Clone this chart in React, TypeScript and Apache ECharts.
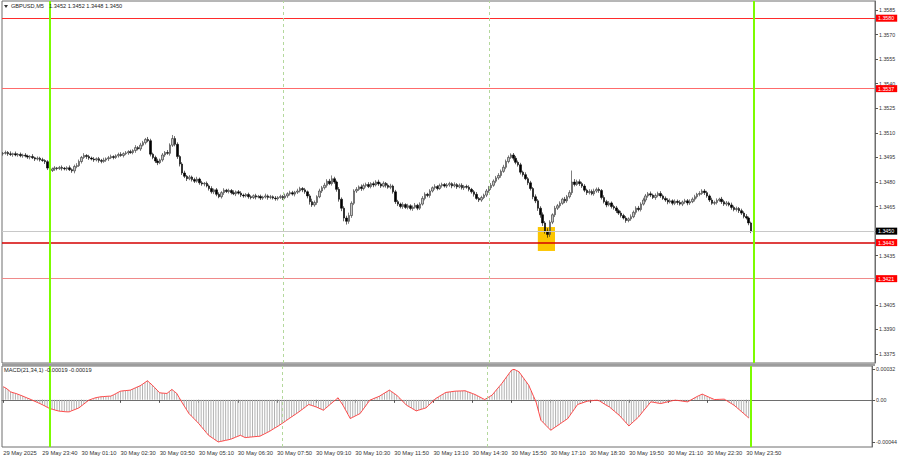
import { useEffect, useRef } from "react";
import * as echarts from "echarts";

// ---------- DATA ----------
const PIP_BASE = 1.34; // close values below are pips above 1.3400
const firstOpenPips = 97.2;
const closePips = [
  97.5, 98.0, 97.2, 96.8, 97.3, 96.5, 96.9, 96.0, 96.4, 95.8,
  95.2, 95.6, 94.8, 94.0, 94.5, 93.6, 93.1, 92.4, 88.5, 87.0,
  88.0, 88.6, 88.2, 88.9, 88.4, 88.0, 88.7, 87.5, 86.8, 89.5,
  90.0, 92.5, 95.0, 96.2, 95.5, 94.6, 94.0, 93.5, 94.2, 93.2,
  92.6, 93.4, 94.2, 94.8, 95.5, 95.0, 96.0, 96.8, 96.2, 97.3,
  97.8, 98.5, 98.0, 99.2, 101.0, 100.2, 102.5, 104.0, 106.0, 105.2,
  97.0, 95.0, 92.8, 91.8, 93.5, 96.5, 98.0, 97.5, 102.5, 106.5,
  103.0, 95.5, 91.0, 85.5, 83.5, 82.0, 83.0, 81.5, 80.5, 81.8,
  79.5, 78.8, 79.2, 77.6, 76.0, 74.0, 75.2, 72.5, 71.0, 73.5,
  75.0, 74.2, 74.8, 73.5, 72.8, 74.0, 73.2, 72.0, 71.5, 72.4,
  71.0, 70.5, 71.6, 70.8, 71.2, 70.2, 70.8, 71.5, 70.6, 71.0,
  70.2, 69.8, 70.5, 71.2, 70.4, 71.5, 72.8, 73.5, 72.6, 73.8,
  74.5, 76.0, 75.2, 74.0, 71.5, 68.0, 66.0, 67.5, 71.0, 74.5,
  76.5, 78.0, 80.5, 79.0, 82.0, 80.0, 75.5, 69.5, 64.0, 58.0,
  56.0, 59.5, 67.0, 74.5, 75.5, 77.0, 76.0, 77.8, 78.5, 77.2,
  79.0, 78.2, 80.0, 78.8, 77.5, 79.2, 78.0, 76.8, 77.5, 74.0,
  68.0, 66.5, 65.0, 66.2, 64.5, 65.5, 63.8, 64.6, 65.8, 64.0,
  66.5, 70.0, 72.5, 71.8, 74.5, 76.5, 77.2, 76.0, 77.8, 78.5,
  77.5, 78.2, 79.0, 77.6, 78.4, 77.0, 78.0, 76.5, 77.3, 76.8,
  75.5, 74.0, 72.5, 70.0, 69.0, 70.5, 72.0, 74.5, 76.5, 78.0,
  80.5, 82.5, 84.0, 86.5, 89.0, 92.5, 95.0, 96.5, 94.5, 92.0,
  90.5, 86.0, 84.5, 82.0, 79.5, 76.0, 71.0, 68.5, 64.0, 60.0,
  55.0, 50.0, 48.0, 55.5, 60.0, 64.0, 65.5, 67.0, 69.5, 68.5,
  71.0, 73.5, 80.0, 78.5, 80.2, 79.0, 77.5, 75.0, 73.5, 74.2,
  72.8, 74.5, 75.5, 74.8, 70.5, 68.0, 66.0, 67.2, 65.0, 64.2,
  62.5, 61.0, 59.5, 58.0, 56.5, 57.5, 58.8, 61.5, 64.0, 63.2,
  66.5, 69.0, 71.5, 72.8, 72.0, 70.5, 71.8, 73.0, 71.5, 70.0,
  69.0, 67.8, 68.5, 67.0, 68.2, 67.5, 66.5, 67.8, 68.5, 67.2,
  68.0, 69.5, 71.0, 72.5, 73.0, 74.5, 73.5, 71.5, 69.0, 67.0,
  67.5, 68.8, 69.5, 68.0, 66.5, 67.2, 66.0, 64.5, 63.2, 63.8,
  62.5, 61.0, 59.0, 58.0, 55.0, 50.0,
];
// wick lengths in pips above the body top / below the body bottom
const upWickPips = [
  0.8, 1.2, 0.9, 1.5, 0.6, 1.3, 0.8, 1.1, 0.9, 1.2,
  0.9, 0.8, 1.4, 0.6, 1.1, 0.9, 1.2, 0.8, 0.9, 1.4,
  0.8, 1.1, 0.6, 0.9, 1.2, 0.8, 0.9, 1.4, 0.8, 1.1,
  1.5, 1.2, 0.9, 1.4, 0.8, 1.1, 0.9, 1.2, 0.8, 1.1,
  0.9, 1.4, 0.8, 1.1, 1.2, 0.8, 0.9, 1.1, 1.4, 0.8,
  1.1, 0.9, 1.2, 0.8, 1.5, 0.9, 1.4, 1.1, 0.9, 1.5,
  1.2, 0.9, 1.1, 1.4, 0.8, 1.2, 0.9, 1.5, 1.1, 2.2,
  1.5, 1.2, 0.9, 1.1, 1.4, 0.8, 1.2, 0.9, 1.1, 1.4,
  0.9, 1.2, 0.8, 1.1, 0.9, 1.4, 0.8, 1.1, 1.2, 0.9,
  1.2, 0.8, 1.1, 0.9, 1.4, 0.8, 1.1, 1.2, 0.9, 0.8,
  1.1, 0.9, 0.8, 1.2, 0.9, 1.1, 0.8, 1.4, 0.9, 1.1,
  0.8, 1.2, 0.9, 1.1, 0.8, 1.4, 0.9, 1.2, 1.1, 0.8,
  1.4, 1.1, 0.9, 1.2, 0.8, 1.1, 1.8, 1.2, 0.9, 1.4,
  1.1, 1.5, 1.2, 1.4, 2.0, 1.2, 0.9, 1.4, 1.1, 1.2,
  1.4, 1.8, 1.2, 1.1, 1.4, 0.9, 1.5, 1.2, 1.1, 1.4,
  0.9, 1.2, 1.1, 1.4, 0.9, 1.2, 0.8, 1.1, 1.4, 0.9,
  1.2, 1.1, 0.9, 1.4, 0.8, 1.2, 0.9, 1.1, 1.4, 0.9,
  1.1, 1.4, 1.2, 0.9, 1.1, 0.8, 1.4, 0.9, 1.2, 1.1,
  0.9, 1.2, 1.1, 0.8, 1.4, 0.9, 1.1, 1.2, 0.9, 1.1,
  1.2, 0.9, 1.1, 1.4, 0.8, 1.1, 0.9, 1.2, 1.1, 1.4,
  1.1, 1.2, 1.4, 1.1, 1.5, 1.2, 1.2, 1.0, 1.2, 1.4,
  1.1, 1.2, 0.9, 1.4, 1.1, 1.2, 0.9, 1.4, 1.1, 1.2,
  1.4, 1.1, 1.8, 1.2, 0.9, 1.4, 1.1, 1.2, 0.9, 1.4,
  1.1, 1.5, 7.0, 1.8, 1.2, 1.4, 1.1, 1.2, 0.9, 1.4,
  1.2, 1.4, 1.1, 1.2, 0.9, 1.4, 1.1, 1.2, 0.9, 1.1,
  1.2, 0.9, 1.4, 1.1, 1.2, 0.9, 1.4, 1.1, 1.2, 1.4,
  1.1, 1.4, 1.2, 1.1, 1.4, 0.9, 1.2, 1.1, 1.4, 0.9,
  1.2, 1.1, 1.4, 0.9, 1.2, 1.1, 1.4, 0.9, 1.2, 1.1,
  1.4, 1.1, 1.2, 0.9, 1.4, 1.1, 1.2, 1.1, 0.9, 1.4,
  1.1, 1.2, 0.9, 1.4, 1.1, 1.2, 0.9, 1.4, 1.1, 1.2,
  0.9, 1.2, 1.1, 1.4, 0.9, 0.8,
];
const dnWickPips = [
  1.1, 0.8, 1.2, 0.9, 1.4, 0.8, 1.1, 0.9, 1.2, 0.8,
  1.1, 1.4, 0.8, 1.2, 0.9, 1.1, 0.8, 1.4, 1.2, 1.8,
  0.9, 1.2, 1.1, 0.8, 1.4, 0.9, 1.1, 0.8, 1.2, 1.5,
  1.1, 0.8, 1.2, 0.9, 1.4, 1.1, 0.8, 1.2, 0.9, 1.4,
  1.2, 0.9, 1.1, 1.4, 0.8, 1.2, 0.9, 1.1, 0.8, 1.2,
  0.9, 1.2, 0.8, 1.1, 1.4, 0.9, 1.2, 0.8, 1.1, 0.9,
  1.4, 1.1, 1.2, 1.5, 0.9, 1.1, 1.2, 0.9, 1.4, 1.1,
  1.2, 1.4, 1.5, 1.2, 1.1, 1.4, 0.9, 1.2, 1.1, 0.9,
  1.2, 1.1, 1.4, 0.9, 1.2, 1.1, 1.4, 1.2, 0.9, 1.1,
  1.4, 0.9, 1.2, 1.1, 0.8, 1.4, 0.9, 1.2, 1.1, 0.9,
  1.2, 1.1, 0.9, 1.4, 0.8, 1.2, 1.1, 0.9, 1.4, 1.1,
  0.9, 1.2, 1.1, 0.8, 1.4, 0.9, 1.2, 1.1, 0.9, 1.4,
  1.1, 0.9, 1.4, 1.2, 1.5, 1.8, 1.2, 1.1, 1.4, 0.9,
  1.2, 1.1, 1.4, 0.9, 1.2, 1.1, 1.4, 1.5, 1.8, 2.0,
  2.0, 1.5, 1.4, 1.1, 1.2, 0.9, 1.4, 1.1, 1.2, 0.9,
  1.1, 1.4, 0.9, 1.2, 1.1, 0.8, 1.4, 0.9, 1.2, 1.1,
  1.4, 1.2, 1.1, 1.4, 0.9, 1.2, 1.1, 1.4, 0.9, 1.2,
  1.1, 0.9, 1.2, 1.1, 1.4, 0.9, 1.2, 1.1, 0.8, 1.2,
  0.9, 1.2, 1.1, 1.4, 0.9, 1.2, 0.8, 1.1, 1.4, 0.9,
  1.2, 1.1, 1.4, 0.9, 1.2, 1.1, 0.9, 1.2, 1.1, 1.4,
  0.9, 1.2, 1.1, 1.4, 0.9, 1.2, 1.1, 0.9, 1.4, 1.2,
  1.1, 1.4, 1.2, 0.9, 1.4, 1.2, 1.5, 1.4, 1.6, 1.8,
  1.8, 1.5, 2.0, 1.5, 1.2, 1.4, 1.1, 1.2, 0.9, 1.4,
  1.2, 1.1, 1.4, 1.2, 0.9, 1.4, 1.1, 1.2, 1.4, 1.1,
  0.9, 1.2, 1.1, 1.4, 1.2, 1.1, 1.4, 0.9, 1.2, 1.1,
  1.4, 1.1, 1.2, 0.9, 1.4, 1.1, 1.2, 0.9, 1.4, 1.1,
  1.2, 0.9, 1.4, 1.1, 1.2, 0.9, 1.4, 1.1, 1.2, 0.9,
  1.1, 1.4, 0.9, 1.2, 1.1, 1.4, 0.9, 1.2, 1.1, 1.4,
  1.2, 0.9, 1.4, 1.1, 1.2, 0.9, 1.4, 1.1, 1.2, 0.9,
  1.1, 1.2, 0.9, 1.4, 1.1, 1.2, 0.9, 1.4, 1.1, 1.2,
  1.4, 1.1, 1.2, 0.9, 1.4, 1.2,
];
// MACD(21,34,1) main = signal, in units of 1e-5
const macdE5 = [
  13.7, 12.5, 10.5, 8.4, 7.5, 6.8, 5.9, 4.9, 3.9, 2.8,
  1.7, 0.7, -0.5, -1.6, -2.8, -3.9, -5.1, -6.4, -7.8, -9.1,
  -9.8, -10.6, -11.3, -11.9, -12.1, -12.4, -12.6, -12.6, -11.5, -10.5,
  -9.5, -8.4, -6.4, -4.4, -2.4, -0.4, 0.6, 1.5, 2.3, 2.8,
  3.2, 3.4, 3.6, 3.8, 3.9, 5.1, 6.4, 7.8, 9.1, 9.4,
  9.7, 9.9, 10.2, 11.3, 12.5, 13.6, 14.7, 16.4, 18.2, 20.0,
  17.7, 15.4, 12.7, 10.1, 7.4, 7.1, 6.9, 6.7, 8.8, 10.9,
  8.8, 6.7, 2.3, -2.1, -6.2, -10.3, -14.4, -17.0, -19.6, -22.2,
  -24.9, -28.0, -31.1, -34.1, -37.2, -39.0, -40.7, -42.5, -44.2, -43.6,
  -43.1, -42.5, -42.0, -41.4, -40.4, -39.3, -38.3, -37.2, -38.4, -39.6,
  -39.4, -39.1, -38.9, -38.6, -38.4, -38.2, -36.9, -35.6, -34.3, -33.0,
  -31.4, -29.8, -28.3, -26.7, -24.9, -23.2, -21.4, -19.6, -17.9, -16.1,
  -14.4, -12.6, -10.7, -8.8, -6.8, -4.9, -5.7, -6.6, -7.4, -8.6,
  -9.7, -10.9, -8.7, -6.5, -4.3, -2.1, 0.0, 2.1, -1.8, -5.6,
  -10.3, -15.0, -19.6, -18.3, -17.0, -15.7, -14.4, -10.9, -7.4, -3.9,
  -0.4, 0.7, 1.8, 2.8, 3.9, 5.5, 7.1, 8.6, 10.2, 8.4,
  6.6, 4.9, 2.3, -0.4, -3.0, -5.6, -7.1, -8.6, -10.1, -11.6,
  -10.8, -10.0, -9.2, -8.4, -5.9, -3.5, -1.0, 1.4, 3.0, 4.6,
  6.1, 7.7, 8.1, 8.4, 8.8, 9.1, 9.2, 9.3, 9.4, 9.5,
  8.5, 7.6, 6.6, 5.6, 4.3, 3.0, 1.6, 0.3, 1.8, 3.4,
  4.9, 8.0, 11.1, 14.1, 17.2, 20.7, 24.2, 27.7, 31.2, 32.0,
  30.8, 29.5, 26.0, 22.4, 18.9, 15.4, 9.5, 3.6, -2.1, -11.8,
  -21.4, -24.0, -26.7, -29.3, -31.9, -30.2, -28.4, -26.7, -24.9, -23.1,
  -21.4, -19.6, -15.9, -12.2, -8.6, -4.9, -4.0, -3.2, -2.3, -1.4,
  -1.2, -0.9, -0.6, -0.4, -1.2, -2.8, -4.5, -6.0, -7.4, -9.6,
  -11.8, -14.0, -16.1, -18.9, -21.7, -24.6, -27.4, -25.0, -22.6, -20.3,
  -17.9, -14.7, -11.4, -8.4, -5.2, -2.1, -2.6, -3.0, -3.5, -3.9,
  -3.3, -2.7, -2.0, -1.4, -0.8, -0.4, -0.7, -1.0, -1.4, -1.8,
  -2.1, -0.7, 0.8, 2.2, 3.6, 4.8, 6.0, 4.8, 3.7, 2.5,
  1.4, 0.3, 0.4, 0.5, 0.6, 0.7, -0.9, -2.5, -4.0, -5.6,
  -7.8, -10.0, -12.2, -14.4, -16.7, -19.0,
];

const TOTAL_SLOTS = 356; // bar slots across the plot (incl. empty right margin)
const xTickIndex = [0, 16, 32, 48, 64, 80, 96, 112, 128, 144, 160, 176, 192, 208, 224, 240, 256, 272, 288, 304];
const xTickLabels = [
  "29 May 2025", "29 May 23:40", "30 May 01:10", "30 May 02:30", "30 May 03:50",
  "30 May 05:10", "30 May 06:30", "30 May 07:50", "30 May 09:10", "30 May 10:30",
  "30 May 11:50", "30 May 13:10", "30 May 14:30", "30 May 15:50", "30 May 17:10",
  "30 May 18:30", "30 May 19:50", "30 May 21:10", "30 May 22:30", "30 May 23:50",
];
const priceTicks = [1.3375, 1.339, 1.3405, 1.342, 1.3435, 1.345, 1.3465, 1.348, 1.3495, 1.351, 1.3525, 1.354, 1.3555, 1.357, 1.3585];
const macdTicks = [-0.00044, 0, 0.00032];
const macdTickLabels = ["-0.00044", "0.00", "0.00032"];
const levelPrices = [1.358, 1.3537, 1.3443, 1.3421];
const currentPrice = 1.345;
const dayBreakIndex = [19, 306];
const sessionIndex = [114, 198];
const signalBoxFrom = 218;
const signalBoxTo = 225;
const signalBoxTop = 1.34525;
const signalBoxBottom = 1.34379;
const symbolTitle = "GBPUSD,M5";
const ohlcTitle = "1.3452 1.3452 1.3448 1.3450";
const macdTitle = "MACD(21,34,1) -0.00019 -0.00019";

const FONT = "'Liberation Sans', Arial, sans-serif";

export default function App() {
  const ref = useRef<HTMLDivElement>(null);
  useEffect(() => {
    if (!ref.current) return;
    const chart = echarts.init(ref.current, null, { renderer: "svg" });
    const cats = Array.from({ length: TOTAL_SLOTS }, (_, i) => String(i));
    const labelFor = new Map<number, string>(xTickIndex.map((ix, k) => [ix, xTickLabels[k]]));
    const tickSet = new Set(xTickIndex);
    const px = (p: number) => PIP_BASE + p / 10000;
    const candles = closePips.map((c, i) => {
      const o = i === 0 ? firstOpenPips : closePips[i - 1];
      const h = Math.max(o, c) + upWickPips[i];
      const l = Math.min(o, c) - dnWickPips[i];
      return [px(o), px(c), px(l), px(h)];
    });
    const macd = macdE5.map((v) => v / 100000);

    const levelStyles = [
      { line: "#ff2b2b", width: 1.2 },
      { line: "#ff6b6b", width: 1 },
      { line: "#d40000", width: 1.5 },
      { line: "#f08a8a", width: 1 },
    ];
    const boxLabel = (bg: string) => ({
      show: true,
      position: "end",
      distance: 1,
      formatter: (p: any) => Number(p.value).toFixed(4),
      backgroundColor: bg,
      color: "#ffffff",
      fontSize: 5.3,
      fontFamily: FONT,
      padding: [1, 3, 1, 2],
    });
    const verticalLines = [
      ...dayBreakIndex.map((ix) => ({
        xAxis: String(ix),
        lineStyle: { color: "#7cfc00", width: 2, type: "solid" },
        label: { show: false },
      })),
      ...sessionIndex.map((ix) => ({
        xAxis: String(ix),
        lineStyle: { color: "#b4d89c", width: 1, type: [3, 3] },
        label: { show: false },
      })),
    ];

    const option: any = {
      animation: false,
      backgroundColor: "#ffffff",
      textStyle: { fontFamily: FONT },
      grid: [
        { left: 2, top: 1, width: 873, height: 362, show: true, borderColor: "#6e6e6e", borderWidth: 1, backgroundColor: "#ffffff" },
        { left: 2, top: 366, width: 873, height: 81, show: true, borderColor: "#6e6e6e", borderWidth: 1, backgroundColor: "#ffffff" },
      ],
      xAxis: [
        {
          type: "category", gridIndex: 0, data: cats, boundaryGap: true,
          axisLine: { show: false }, axisTick: { show: false }, axisLabel: { show: false }, splitLine: { show: false },
        },
        {
          type: "category", gridIndex: 1, data: cats, boundaryGap: true,
          axisLine: { show: true, lineStyle: { color: "#6e6e6e" } },
          axisTick: { show: true, alignWithLabel: true, interval: (i: number) => tickSet.has(i), length: 3, lineStyle: { color: "#555" } },
          axisLabel: {
            show: true, interval: (i: number) => tickSet.has(i),
            formatter: (v: string) => labelFor.get(Number(v)) ?? "",
            align: "left", fontSize: 5.8, color: "#333", margin: 3, fontFamily: FONT,
          },
          splitLine: { show: false },
        },
      ],
      yAxis: [
        {
          type: "value", gridIndex: 0, position: "right", min: 1.33695, max: 1.35905,
          splitLine: { show: false },
          axisLine: { show: true, lineStyle: { color: "#6e6e6e" } },
          axisTick: { show: true, length: 3, customValues: priceTicks, lineStyle: { color: "#555" } },
          axisLabel: { customValues: priceTicks, formatter: (v: number) => v.toFixed(4), fontSize: 5.3, color: "#333", margin: 4, fontFamily: FONT },
        },
        {
          type: "value", gridIndex: 1, position: "right", min: -0.000495, max: 0.000355,
          splitLine: { show: false },
          axisLine: { show: true, lineStyle: { color: "#6e6e6e" } },
          axisTick: { show: true, length: 3, customValues: macdTicks, lineStyle: { color: "#555" } },
          axisLabel: {
            customValues: macdTicks,
            formatter: (v: number) => {
              const k = macdTicks.findIndex((t) => Math.abs(t - v) < 1e-9);
              return k >= 0 ? macdTickLabels[k] : "";
            },
            fontSize: 5.3, color: "#333", margin: 4, fontFamily: FONT,
          },
        },
      ],
      series: [
        {
          type: "line", xAxisIndex: 0, yAxisIndex: 0, data: [], z: 1, silent: true,
          markArea: {
            silent: true,
            itemStyle: { color: "#fcc600", opacity: 1 },
            data: [[
              { xAxis: String(signalBoxFrom), yAxis: signalBoxTop },
              { xAxis: String(signalBoxTo), yAxis: signalBoxBottom },
            ]],
          },
        },
        {
          type: "candlestick", xAxisIndex: 0, yAxisIndex: 0, data: candles, barWidth: 2, z: 3,
          itemStyle: { color: "#c4c4c4", color0: "#000000", borderColor: "#2a2a2a", borderColor0: "#000000", borderWidth: 0.6 },
          markLine: {
            silent: true, symbol: ["none", "none"], animation: false, precision: 6,
            data: [
              ...levelPrices.map((p, k) => ({
                yAxis: p,
                lineStyle: { color: levelStyles[k].line, width: levelStyles[k].width, type: "solid" },
                label: boxLabel("#ff0000"),
              })),
              {
                yAxis: currentPrice,
                lineStyle: { color: "#c8c8c8", width: 1, type: "solid" },
                label: boxLabel("#000000"),
              },
              ...verticalLines,
            ],
          },
        },
        {
          type: "bar", xAxisIndex: 1, yAxisIndex: 1, data: macd, barWidth: 1, z: 2,
          itemStyle: { color: "#b2b2b2" },
          markLine: { silent: true, symbol: ["none", "none"], animation: false, data: verticalLines },
        },
        {
          type: "line", xAxisIndex: 1, yAxisIndex: 1, data: macd, symbol: "none", z: 4,
          lineStyle: { color: "#ff3535", width: 0.9 },
        },
      ],
      graphic: [
        { type: "rect", shape: { x: 2, y: 363.5, width: 873, height: 2.5 }, style: { fill: "#9c9c9c" }, z: 10 },
        { type: "polygon", shape: { points: [[4, 5], [8, 5], [6, 8]] }, style: { fill: "#333" }, z: 10 },
        { type: "text", x: 11, y: 3, style: { text: symbolTitle, fontSize: 5.6, fill: "#222", fontFamily: FONT }, z: 10 },
        { type: "text", x: 49, y: 3, style: { text: ohlcTitle, fontSize: 5.6, fill: "#222", fontFamily: FONT }, z: 10 },
        { type: "text", x: 4, y: 366.5, style: { text: macdTitle, fontSize: 5.7, fill: "#222", fontFamily: FONT }, z: 10 },
      ],
    };
    chart.setOption(option);
    return () => chart.dispose();
  }, []);
  return (
    <div
      ref={ref}
      style={{ position: "absolute", left: 0, top: 0, width: 900, height: 460, background: "#ffffff" }}
    />
  );
}
